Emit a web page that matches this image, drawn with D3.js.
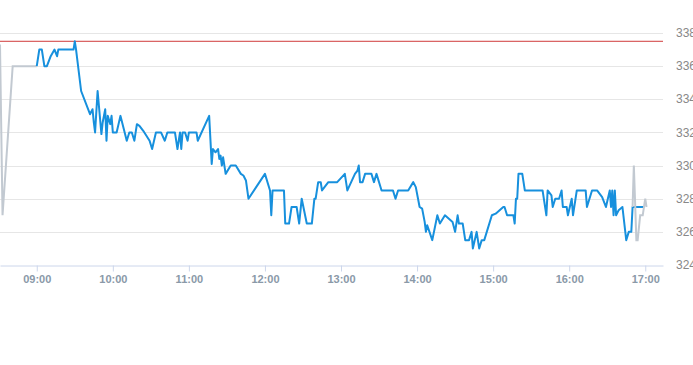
<!DOCTYPE html>
<html>
<head>
<meta charset="utf-8">
<script src="https://cdn.jsdelivr.net/npm/d3@7"></script>
<style>
  body { margin: 0; background: #fff; }
  svg { display: block; font-family: "Liberation Sans", Arial, sans-serif; }
</style>
</head>
<body>
<div id="wrapper"></div>
<script>
// pre-market (grey)
const preTimes  = ['08:31', '08:33', '08:41', '09:00'];
const preValues = [337.3, 327.0, 336, 336];

// regular session (blue)
const dayTimes = [
  '09:00','09:02','09:04','09:06','09:08','09:11','09:14','09:16','09:17','09:29',
  '09:30','09:31','09:35','09:42','09:44','09:45','09:46','09:48','09:51','09:52',
  '09:54','09:55','09:56','09:58','09:59','10:00','10:03','10:06','10:11','10:13',
  '10:15','10:17','10:19','10:21','10:24','10:29','10:31','10:34','10:38','10:41',
  '10:43','10:49','10:51','10:53','10:54','10:55','10:57','10:59','11:00','11:06',
  '11:07','11:16','11:18','11:19','11:21','11:23','11:24','11:25','11:26','11:27',
  '11:29','11:33','11:37','11:41','11:43','11:45','11:47','12:00','12:04','12:05',
  '12:06','12:15','12:16','12:19','12:21','12:25','12:27','12:29','12:33','12:37',
  '12:39','12:40','12:42','12:44','12:45','12:50','12:57','13:03','13:05','13:11',
  '13:13','13:14','13:15','13:17','13:19','13:24','13:26','13:28','13:32','13:41',
  '13:43','13:45','13:53','13:57','13:59','14:02','14:04','14:06','14:07','14:08',
  '14:12','14:16','14:18','14:22','14:28','14:30','14:32','14:33','14:36','14:38',
  '14:41','14:43','14:44','14:47','14:49','14:51','14:53','14:59','15:02','15:08',
  '15:09','15:11','15:16','15:17','15:18','15:19','15:20','15:23','15:25','15:39',
  '15:42','15:43','15:46','15:47','15:49','15:52','15:54','15:55','15:58','15:59',
  '16:02','16:03','16:06','16:13','16:14','16:18','16:22','16:26','16:29','16:32',
  '16:33','16:34','16:35','16:36','16:37','16:39','16:42','16:45','16:47','16:49',
  '16:50','16:59'
];
const dayValues = [
  336,337,337,336,336,336.6,337,336.6,337,337,
  337.5,337,334.5,333.1,333.4,332.6,332,334.5,331.9,332.6,
  333.4,331.5,333,332.5,333,332,332,333,331.5,332,
  332,331.5,332.5,332.4,332.1,331.5,331,332,332,331.5,
  332,332,331,332,331,332,332,331.5,332,332,
  331.5,333,330.1,331,330.8,331,330.4,330.6,330,330.5,
  329.5,330,330,329.5,329.4,329.1,328,329.5,328.5,327,
  328.5,328.5,326.5,326.5,327.5,327.5,326.5,328,326.5,326.5,
  328,328,329,329,328.5,329,329,329.5,328.5,329.5,
  329.7,330,329,329,329.5,329.5,329,329.5,328.5,328.5,
  328,328.5,328.5,329,328.7,327.5,327.4,326.6,326,326.4,
  325.5,327,326.5,327,326.6,326,327,326.5,326.5,325.5,
  325.5,326,325,326,325,325.5,325.5,327,327.1,327.5,
  327.5,327,327,326.5,328,328,329.5,329.5,328.5,328.5,
  327,328.5,328.2,327.5,328,328,328.5,327.5,327.5,327,
  328,327,328.5,328.5,327.5,328.5,328.5,328.1,327.5,328.5,
  327.5,328.5,327,328.5,327,327.3,327.5,325.5,326,326,
  327.5,327.5
];

// after-hours (grey)
const postTimes  = ['16:50','16:51','16:53','16:54','16:56','16:58','17:00','17:01'];
const postValues = [327.5, 330, 325.5, 325.5, 327, 327, 328, 327.5];

const prevClose = 337.5;
const yTicks = [324, 326, 328, 330, 332, 334, 336, 338];
const xTickLabels = ['09:00','10:00','11:00','12:00','13:00','14:00','15:00','16:00','17:00'];
const xStart = '08:31', xEnd = '17:14';

let width = 693, height = 365;
let margin = { left: 0, top: 33, right: 30, bottom: 100 };

let parse = d3.timeParse('%H:%M');
function toPoints(times, values) {
  return times.map(function(t, i){ return { t: parse(t), v: values[i] }; });
}

let svg = d3.select('div#wrapper')
  .append('svg')
  .attr('width', width)
  .attr('height', height);

let x = d3.scaleTime()
  .domain([parse(xStart), parse(xEnd)])
  .range([margin.left, width - margin.right]);

let y = d3.scaleLinear()
  .domain([324, 338])
  .range([height - margin.bottom, margin.top]);

// grid lines
svg.append('g')
  .selectAll('line')
  .data(yTicks.slice(1))
  .enter()
  .append('line')
  .attr('x1', x.range()[0])
  .attr('x2', x.range()[1])
  .attr('y1', function(d){ return Math.round(y(d)) + 0.5; })
  .attr('y2', function(d){ return Math.round(y(d)) + 0.5; })
  .style('stroke', '#e6e6e6')
  .style('stroke-width', 1);

// y labels
svg.append('g')
  .selectAll('text')
  .data(yTicks)
  .enter()
  .append('text')
  .attr('x', width - margin.right + 13)
  .attr('y', function(d){ return y(d); })
  .attr('dy', '0.35em')
  .style('font-size', '12px')
  .style('fill', '#888')
  .text(function(d){ return d; });

// x axis
let xAxis = d3.axisBottom(x)
  .tickValues(xTickLabels.map(function(t){ return parse(t); }))
  .tickFormat(d3.timeFormat('%H:%M'))
  .tickSize(6)
  .tickSizeOuter(0);

let gx = svg.append('g')
  .attr('transform', 'translate(0,' + (Math.round(y(324)) + 0.5) + ')')
  .call(xAxis);
gx.select('.domain').style('stroke', '#ccd6eb');
gx.selectAll('.tick line').style('stroke', '#ccd6eb');
gx.selectAll('.tick text')
  .attr('dy', '1.05em')
  .attr('y', 6)
  .style('font-size', '11px')
  .style('font-weight', 'bold')
  .style('fill', '#8a99a8')
  .style('font-family', '"Liberation Sans", Arial, sans-serif');

let line = d3.line()
  .x(function(d){ return x(d.t); })
  .y(function(d){ return y(d.v); });

let plot = svg.append('g');

// previous close
plot.append('line')
  .attr('x1', x.range()[0])
  .attr('x2', x.range()[1])
  .attr('y1', y(prevClose))
  .attr('y2', y(prevClose))
  .style('stroke', '#d03b3b')
  .style('stroke-width', 1);

plot.append('path')
  .datum(toPoints(preTimes, preValues))
  .attr('d', line)
  .style('fill', 'none')
  .style('stroke', '#c2c9d1')
  .style('stroke-width', 2);

plot.append('path')
  .datum(toPoints(dayTimes, dayValues))
  .attr('d', line)
  .style('fill', 'none')
  .style('stroke', '#1790dd')
  .style('stroke-width', 2)
  .style('stroke-linejoin', 'round');

plot.append('path')
  .datum(toPoints(postTimes, postValues))
  .attr('d', line)
  .style('fill', 'none')
  .style('stroke', '#c2c9d1')
  .style('stroke-width', 2);
</script>
</body>
</html>
